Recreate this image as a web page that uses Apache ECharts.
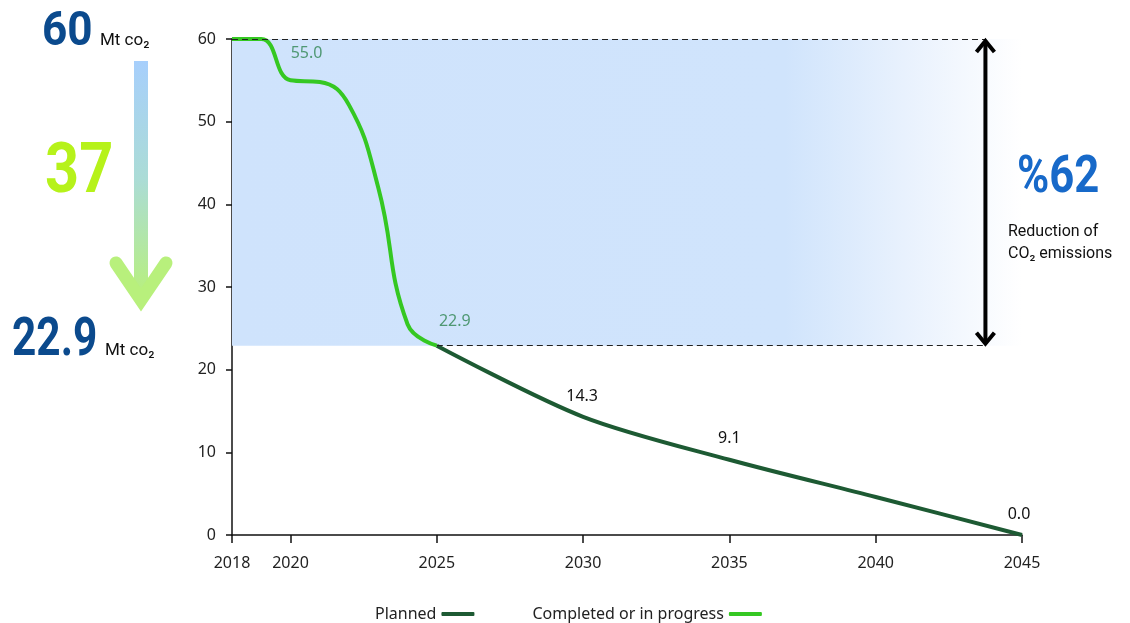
<!DOCTYPE html>
<html>
<head>
<meta charset="utf-8">
<script src="https://cdn.jsdelivr.net/npm/echarts@6/dist/echarts.min.js"></script>
<style>
  html, body { margin: 0; padding: 0; background: #ffffff; }
  #chart { width: 1130px; height: 623px; }
</style>
</head>
<body>
<div id="chart"></div>
<script>
// ---- data ----
const yearTicks = [2018, 2020, 2025, 2030, 2035, 2040, 2045];
const valueTicks = [0, 10, 20, 30, 40, 50, 60];

const completedYears  = [2018, 2019, 2020, 2021, 2022, 2023, 2024, 2025];
const completedValues = [60, 60, 55.0, 54.8, 52, 42, 25.5, 22.9];

const plannedYears  = [2025, 2030, 2035, 2040, 2045];
const plannedValues = [22.9, 14.3, 9.1, 4.6, 0.0];

const completedLabelYears = [2020, 2025];
const plannedLabelYears   = [2030, 2035, 2045];

const baselineValue = 60;      // Mt CO2 at the start
const targetValue = 22.9;      // Mt CO2 reached
const reductionValue = 37;     // Mt CO2 removed
const reductionPercent = 62;   // share of the baseline
const arrowYear = 2043.75;     // where the reduction bracket stands

// ---- styling ----
const DARK = '#1d5a33';
const BRIGHT = '#35c822';
const LABEL_FONT = 'Noto Sans';
const labelOffsets = {
  2020: [16, -14], 2025: [18, -11], 2030: [-1, -7], 2035: [0, -8], 2045: [-3, -8]
};

// value labels sit on a near-invisible scatter layer so the lines stay symbol-free
function labelPoints(xs, ys, labelled, color) {
  return xs.map((x, i) => ({ x: x, y: ys[i] }))
    .filter(p => labelled.includes(p.x))
    .map(p => ({
      value: [p.x, p.y],
      label: {
        show: true, position: 'top', offset: labelOffsets[p.x],
        color: color, opacity: 1, fontSize: 16, fontFamily: LABEL_FONT,
        formatter: q => q.value[1].toFixed(1)
      }
    }));
}
const pairs = (xs, ys) => xs.map((x, i) => [x, ys[i]]);

const chart = echarts.init(document.getElementById('chart'), null, { renderer: 'canvas' });

const option = {
  animation: false,
  backgroundColor: '#ffffff',
  grid: { left: 232, right: 108, top: 39, bottom: 88 },
  legend: {
    left: 370, top: 601,
    align: 'right',
    itemGap: 58,
    itemWidth: 33, itemHeight: 4,
    icon: 'roundRect',
    textStyle: { fontFamily: LABEL_FONT, fontSize: 16, color: '#222' },
    data: ['Planned', 'Completed or in progress']
  },
  xAxis: {
    type: 'value', min: 2018, max: 2045,
    splitLine: { show: false },
    axisLine: { show: true, lineStyle: { color: '#111', width: 1.5 } },
    axisTick: { show: true, length: 8, customValues: yearTicks, lineStyle: { color: '#111', width: 1.5 } },
    axisLabel: {
      customValues: yearTicks, margin: 20,
      fontFamily: LABEL_FONT, fontSize: 16, color: '#222',
      formatter: v => String(v)
    }
  },
  yAxis: {
    type: 'value', min: 0, max: 60, interval: 10,
    splitLine: { show: false },
    axisLine: { show: true, lineStyle: { color: '#111', width: 1.5 } },
    axisTick: { show: true, length: 6, lineStyle: { color: '#111', width: 1.5 } },
    axisLabel: {
      margin: 16, fontFamily: LABEL_FONT, fontSize: 16, color: '#222',
      customValues: valueTicks
    }
  },
  series: [
    {
      name: 'Completed or in progress',
      type: 'line',
      data: pairs(completedYears, completedValues),
      smooth: 0.45,
      symbol: 'none',
      clip: false,
      color: BRIGHT,
      lineStyle: { color: BRIGHT, width: 4 },
      z: 4,
      markArea: {
        silent: true,
        z: 1,
        itemStyle: {
          color: new echarts.graphic.LinearGradient(0, 0, 1, 0, [
            { offset: 0, color: '#cfe3fc' },
            { offset: 0.7, color: '#d0e4fc' },
            { offset: 0.85, color: '#e8f1fd' },
            { offset: 1, color: '#ffffff' }
          ])
        },
        data: [[{ coord: [2018, baselineValue] }, { coord: [2045, targetValue] }]]
      }
    },
    {
      name: 'Planned',
      type: 'line',
      data: pairs(plannedYears, plannedValues),
      smooth: 0.3,
      symbol: 'none',
      clip: false,
      color: DARK,
      lineStyle: { color: DARK, width: 4 },
      z: 3,
      markLine: {
        silent: true,
        z: 5,
        symbol: ['none', 'none'],
        label: { show: false },
        lineStyle: { color: '#222', width: 1.2, type: [6, 4] },
        data: [
          [{ coord: [2018, baselineValue] }, { coord: [arrowYear, baselineValue] }],
          [{ coord: [2025, targetValue] }, { coord: [arrowYear, targetValue] }]
        ]
      }
    },
    {
      type: 'scatter', silent: true, z: 6,
      symbolSize: 0.01, itemStyle: { color: BRIGHT, opacity: 1 },
      data: labelPoints(completedYears, completedValues, completedLabelYears, '#4f9873')
    },
    {
      type: 'scatter', silent: true, z: 6,
      symbolSize: 0.01, itemStyle: { color: DARK, opacity: 1 },
      data: labelPoints(plannedYears, plannedValues, plannedLabelYears, '#111111')
    }
  ]
};

chart.setOption(option);

// ---- annotations ----
const pTop = chart.convertToPixel({ gridIndex: 0 }, [arrowYear, baselineValue]);
const pBot = chart.convertToPixel({ gridIndex: 0 }, [arrowYear, targetValue]);
const ax = pTop[0];
const headW = 9, headH = 13;

function big(text, x, y, size, color, sx) {
  return {
    type: 'text', x: x, y: y, scaleX: sx, originX: 0, originY: 0, z: 100,
    style: {
      text: text, fill: color, font: 'bold ' + size + 'px Roboto',
      align: 'left', verticalAlign: 'middle'
    }
  };
}
function small(text, x, y, size, color) {
  return {
    type: 'text', x: x, y: y, z: 100,
    style: { text: text, fill: color, font: size + 'px Roboto', align: 'left', verticalAlign: 'middle' }
  };
}

const NAVY = '#0b4a8d';

chart.setOption({
  graphic: [
    // reduction bracket on the right
    { type: 'line', z: 100, shape: { x1: ax, y1: pTop[1] + 2, x2: ax, y2: pBot[1] - 2 },
      style: { stroke: '#000', lineWidth: 4 } },
    { type: 'polyline', z: 100, shape: { points: [[ax - headW, pTop[1] + headH], [ax, pTop[1] + 2], [ax + headW, pTop[1] + headH]] },
      style: { stroke: '#000', lineWidth: 4, fill: null, lineJoin: 'miter' } },
    { type: 'polyline', z: 100, shape: { points: [[ax - headW, pBot[1] - headH], [ax, pBot[1] - 2], [ax + headW, pBot[1] - headH]] },
      style: { stroke: '#000', lineWidth: 4, fill: null, lineJoin: 'miter' } },
    big('%' + reductionPercent, 1017, 179, 52, '#1769c9', 0.84),
    small('Reduction of', 1008, 232, 16, '#111'),
    small('CO\u2082 emissions', 1008, 254, 16, '#111'),

    // summary column on the left
    big(String(baselineValue), 42, 33, 49, NAVY, 0.9),
    small('Mt co\u2082', 100, 41, 17, '#111'),
    big(String(reductionValue), 45, 174, 70, '#b6f21a', 0.85),
    big(targetValue.toFixed(1), 12, 342, 53, NAVY, 0.8),
    small('Mt co\u2082', 105, 351, 17, '#111'),
    { type: 'rect', z: 100, shape: { x: 134, y: 61, width: 14, height: 236 },
      style: { fill: new echarts.graphic.LinearGradient(0, 0, 0, 1, [
        { offset: 0, color: '#a7cffc' },
        { offset: 0.5, color: '#abdcd6' },
        { offset: 1, color: '#b8f07c' }
      ]) } },
    { type: 'polyline', z: 100, shape: { points: [[116, 263], [141, 300], [166, 263]] },
      style: { stroke: '#b8f07c', lineWidth: 13, fill: null, lineCap: 'round', lineJoin: 'miter' } }
  ]
});
</script>
</body>
</html>
